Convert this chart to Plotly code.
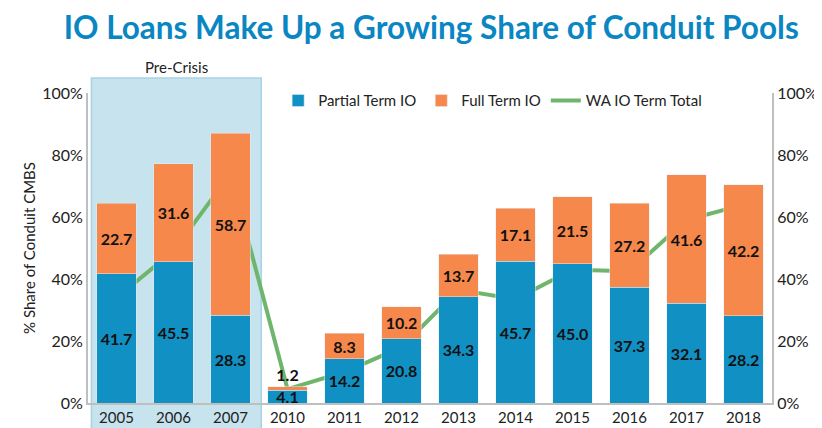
import plotly.graph_objects as go

years = ["2005", "2006", "2007", "2010", "2011", "2012", "2013", "2014", "2015", "2016", "2017", "2018"]
partial_io = [41.7, 45.5, 28.3, 4.1, 14.2, 20.8, 34.3, 45.7, 45.0, 37.3, 32.1, 28.2]
full_io = [22.7, 31.6, 58.7, 1.2, 8.3, 10.2, 13.7, 17.1, 21.5, 27.2, 41.6, 42.2]
wa_io_total = [34, 49, 74, 4.5, 10, 18, 36.5, 33.5, 43, 42.5, 59, 64]
pre_crisis = ["2005", "2006", "2007"]
y_ticks = [0, 20, 40, 60, 80, 100]
y_tick_labels = ["0%", "20%", "40%", "60%", "80%", "100%"]

BLUE = "#1190c4"
ORANGE = "#f5884a"
GREEN = "#6fb56c"
FONT = "Lato"

fig = go.Figure()

fig.add_trace(go.Scatter(
    x=years, y=wa_io_total, name="WA IO Term Total", mode="lines",
    line=dict(color=GREEN, width=4), yaxis="y", legendrank=3,
))

fig.add_trace(go.Bar(
    x=years, y=partial_io, name="Partial Term IO", marker_color=BLUE,
    text=[f"{v:.1f}" for v in partial_io], textposition="inside",
    insidetextanchor="middle", textangle=0,
    textfont=dict(family=FONT, size=16, color="#111111", weight="bold"),
    yaxis="y2", legendrank=1,
))

fig.add_trace(go.Bar(
    x=years, y=full_io, name="Full Term IO", marker_color=ORANGE,
    text=[f"{v:.1f}" for v in full_io],
    textposition=["outside" if v < 3 else "inside" for v in full_io],
    insidetextanchor="middle", textangle=0,
    textfont=dict(family=FONT, size=16, color="#111111", weight="bold"),
    yaxis="y2", legendrank=2, cliponaxis=False,
))

# Pre-crisis shading
i_last = years.index(pre_crisis[-1])
fig.add_shape(type="rect", xref="x", yref="paper",
              x0=-0.44, x1=i_last + 0.54, y0=-0.15, y1=1.048,
              fillcolor="#c6e3ee", line=dict(color="#a9d3e5", width=1.5),
              layer="below")
fig.add_annotation(x=(i_last) / 2 + 0.05, y=1.048, xref="x", yref="paper",
                   text="Pre-Crisis", showarrow=False, yanchor="bottom",
                   font=dict(family=FONT, size=15, color="#222222"))

# the page adds an 8px body margin, so the figure is sized to fit inside the window
fig.update_layout(
    width=814, height=420,
    margin=dict(l=80, r=50, t=85, b=25),
    paper_bgcolor="white", plot_bgcolor="rgba(0,0,0,0)",
    barmode="stack", bargap=0.3,
    uniformtext=dict(minsize=16, mode="show"),
    font=dict(family=FONT, size=15, color="#222222"),
    title=dict(text="<b>IO Loans Make Up a Growing Share of Conduit Pools</b>",
               x=0.52, xanchor="center", y=0.952, yanchor="middle",
               font=dict(family=FONT, size=31.5, color="#0a86c2")),
    showlegend=True,
    legend=dict(orientation="h", x=0.278, xanchor="left", y=0.975, yanchor="middle",
                font=dict(family=FONT, size=15, color="#222222"),
                bgcolor="rgba(0,0,0,0)", traceorder="normal"),
    xaxis=dict(type="category", showgrid=False, showline=True, linecolor="#bfbfbf",
               linewidth=2, ticks="", automargin=False,
               tickfont=dict(family=FONT, size=15, color="#222222")),
    yaxis=dict(range=[0, 100], side="right", showgrid=False, zeroline=False,
               tickvals=y_ticks, ticktext=y_tick_labels, showline=True,
               linecolor="#bfbfbf", linewidth=2, ticks="", automargin=False,
               tickfont=dict(family=FONT, size=16, color="#222222")),
    yaxis2=dict(range=[0, 100], side="left", overlaying="y", showgrid=False,
                zeroline=False, tickvals=y_ticks, ticktext=y_tick_labels,
                showline=True, linecolor="#bfbfbf", linewidth=2, ticks="",
                automargin=False,
                tickfont=dict(family=FONT, size=16, color="#222222"),
                title=dict(text="% Share of Conduit CMBS", standoff=3,
                           font=dict(family=FONT, size=15, color="#222222"))),
)

fig.write_html("out.html")
